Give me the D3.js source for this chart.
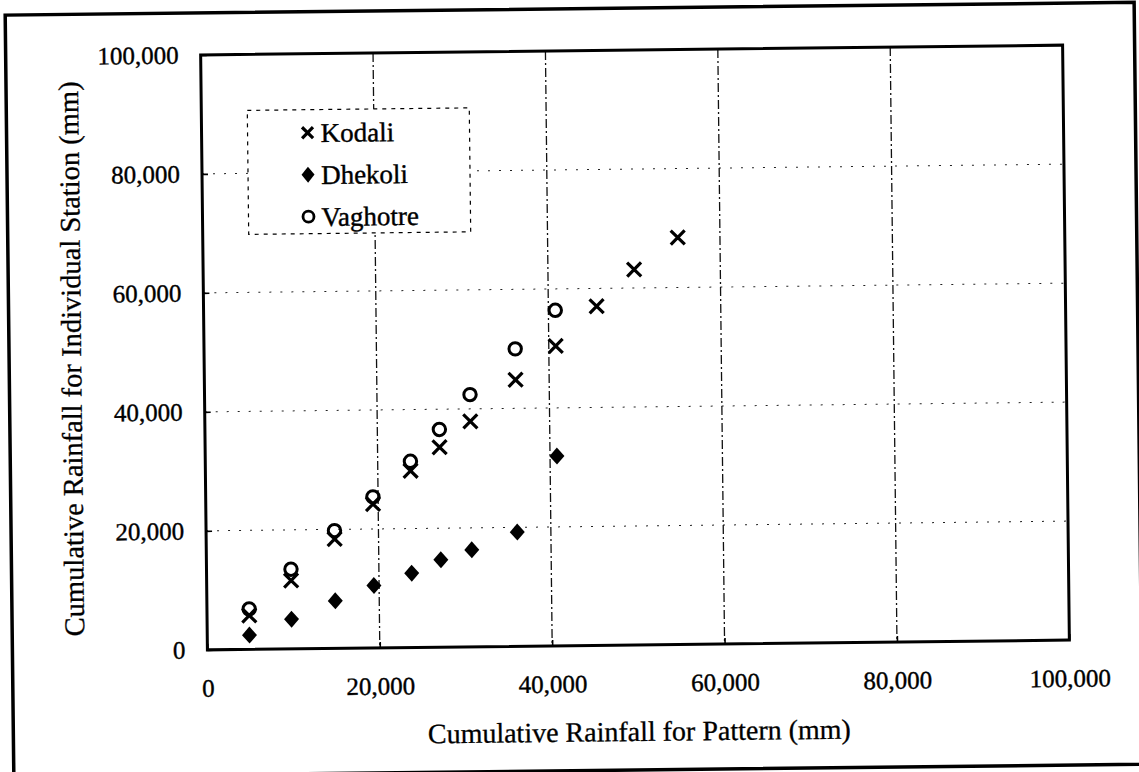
<!DOCTYPE html>
<html>
<head>
<meta charset="utf-8">
<script src="https://cdn.jsdelivr.net/npm/d3@7"></script>
<style>
  html, body { margin: 0; padding: 0; background: #fff; }
  svg { display: block; }
  text { font-family: "Liberation Serif", "Times New Roman", serif; fill: #000; }
</style>
</head>
<body>
<svg id="chart" width="1139" height="772"></svg>
<script>
// ---- data (mm) ----
const pattern  = [4900, 9800, 14900, 19400, 23800, 27200, 30800, 36100, 40800, 45600, 50000, 55100];
const kodali   = [5700, 11500, 18400, 24200, 29700, 33600, 37900, 44800, 50400, 57000, 63100, 68400];
const dhekoli  = [2400, 5000, 8000, 10500, 12500, 14700, 16300, 19200, 31900];
const vaghotre = [6800, 13400, 19800, 25400, 31300, 36600, 42400, 50000, 56400];
const seriesNames = ["Kodali", "Dhekoli", "Vaghotre"];
const xTicks = [0, 20000, 40000, 60000, 80000, 100000];
const yTicks = [0, 20000, 40000, 60000, 80000, 100000];
const xTitle = "Cumulative Rainfall for Pattern (mm)";
const yTitle = "Cumulative Rainfall for Individual Station (mm)";

// ---- layout ----
const W = 1139, H = 772;
const L = 204, T = 50, PW = 862, PH = 595;
const svg = d3.select("#chart");
svg.append("rect").attr("width", W).attr("height", H).attr("fill", "#fff");

const root = svg.append("g").attr("transform", "rotate(-0.65, 634.5, 347)");

// outer frame
root.append("path")
  .attr("d", "M9,780 L9,8 L1138,8 L1138,780 M9,770 L1150,770")
  .attr("fill", "none").attr("stroke", "#000").attr("stroke-width", 3.5);

const x = d3.scaleLinear().domain([0, 100000]).range([L, L + PW]);
const y = d3.scaleLinear().domain([0, 100000]).range([T + PH, T]);
const fmt = d3.format(",");

const g = root.append("g");

// gridlines
g.selectAll("line.hgrid").data(yTicks.filter(d => d > 0 && d < 100000)).join("line")
  .attr("class", "hgrid")
  .attr("x1", L).attr("x2", L + PW)
  .attr("y1", d => y(d)).attr("y2", d => y(d))
  .attr("stroke", "#222").attr("stroke-width", 1).attr("stroke-dasharray", "2,9");
g.selectAll("line.vgrid").data(xTicks.filter(d => d > 0 && d < 100000)).join("line")
  .attr("class", "vgrid")
  .attr("x1", d => x(d)).attr("x2", d => x(d))
  .attr("y1", T).attr("y2", T + PH)
  .attr("stroke", "#111").attr("stroke-width", 1.3).attr("stroke-dasharray", "9,3,2,3");

// axes (inner ticks)
const xAxis = d3.axisBottom(x).tickValues(xTicks).tickSize(-6).tickFormat(fmt).tickPadding(38);
const yAxis = d3.axisLeft(y).tickValues(yTicks).tickSize(-6).tickFormat(fmt).tickPadding(22);
const gx = g.append("g").attr("transform", `translate(0,${T + PH})`).call(xAxis);
const gy = g.append("g").attr("transform", `translate(${L},0)`).call(yAxis);
[gx, gy].forEach(a => {
  a.select(".domain").remove();
  a.selectAll(".tick line").attr("stroke", "#000").attr("stroke-width", 1.6);
  a.selectAll(".tick text").attr("font-size", 25).attr("fill", "#000")
    .attr("stroke", "#000").attr("stroke-width", 0.4)
    .attr("font-family", '"Liberation Serif", "Times New Roman", serif');
});
gx.selectAll(".tick text").attr("dy", "0.35em");

// plot frame
g.append("rect").attr("x", L).attr("y", T).attr("width", PW).attr("height", PH)
  .attr("fill", "none").attr("stroke", "#000").attr("stroke-width", 3);

// markers
const xPath = s => `M${-s},${-s}L${s},${s}M${-s},${s}L${s},${-s}`;
const diamondPath = (w, h) => `M0,${-h}L${w},0L0,${h}L${-w},0Z`;

g.selectAll("path.kodali").data(kodali).join("path")
  .attr("class", "kodali")
  .attr("transform", (d, i) => `translate(${x(pattern[i])},${y(d)})`)
  .attr("d", xPath(7)).attr("fill", "none").attr("stroke", "#000").attr("stroke-width", 3.2);

g.selectAll("path.dhekoli").data(dhekoli).join("path")
  .attr("class", "dhekoli")
  .attr("transform", (d, i) => `translate(${x(pattern[i])},${y(d)})`)
  .attr("d", diamondPath(7.5, 8.5)).attr("fill", "#000");

g.selectAll("circle.vaghotre").data(vaghotre).join("circle")
  .attr("class", "vaghotre")
  .attr("cx", (d, i) => x(pattern[i])).attr("cy", d => y(d)).attr("r", 6.2)
  .attr("fill", "none").attr("stroke", "#000").attr("stroke-width", 3);

// legend
const lg = g.append("g");
lg.append("rect").attr("x", 250).attr("y", 106).attr("width", 222).attr("height", 124)
  .attr("fill", "#fff").attr("stroke", "#000").attr("stroke-width", 1.2)
  .attr("stroke-dasharray", "4,5");
const rows = [129, 171, 213];
seriesNames.forEach((name, i) => {
  const cy = rows[i], cx = 310;
  if (i === 0) {
    lg.append("path").attr("transform", `translate(${cx},${cy})`).attr("d", xPath(5.5))
      .attr("fill", "none").attr("stroke", "#000").attr("stroke-width", 3.2);
  } else if (i === 1) {
    lg.append("path").attr("transform", `translate(${cx},${cy})`).attr("d", diamondPath(6.5, 8))
      .attr("fill", "#000");
  } else {
    lg.append("circle").attr("cx", cx).attr("cy", cy).attr("r", 5.5)
      .attr("fill", "none").attr("stroke", "#000").attr("stroke-width", 2.8);
  }
  lg.append("text").attr("x", 323).attr("y", cy).attr("dy", "0.35em")
    .attr("font-size", 27).attr("stroke", "#000").attr("stroke-width", 0.4).text(name);
});

// axis titles
g.append("text").attr("x", L + PW / 2).attr("y", 741).attr("text-anchor", "middle")
  .attr("font-size", 28).attr("stroke", "#000").attr("stroke-width", 0.3).text(xTitle);
g.append("text").attr("transform", `translate(81,${T + PH / 2 + 5}) rotate(-90)`)
  .attr("text-anchor", "middle").attr("font-size", 28.5)
  .attr("stroke", "#000").attr("stroke-width", 0.3).text(yTitle);
</script>
</body>
</html>
